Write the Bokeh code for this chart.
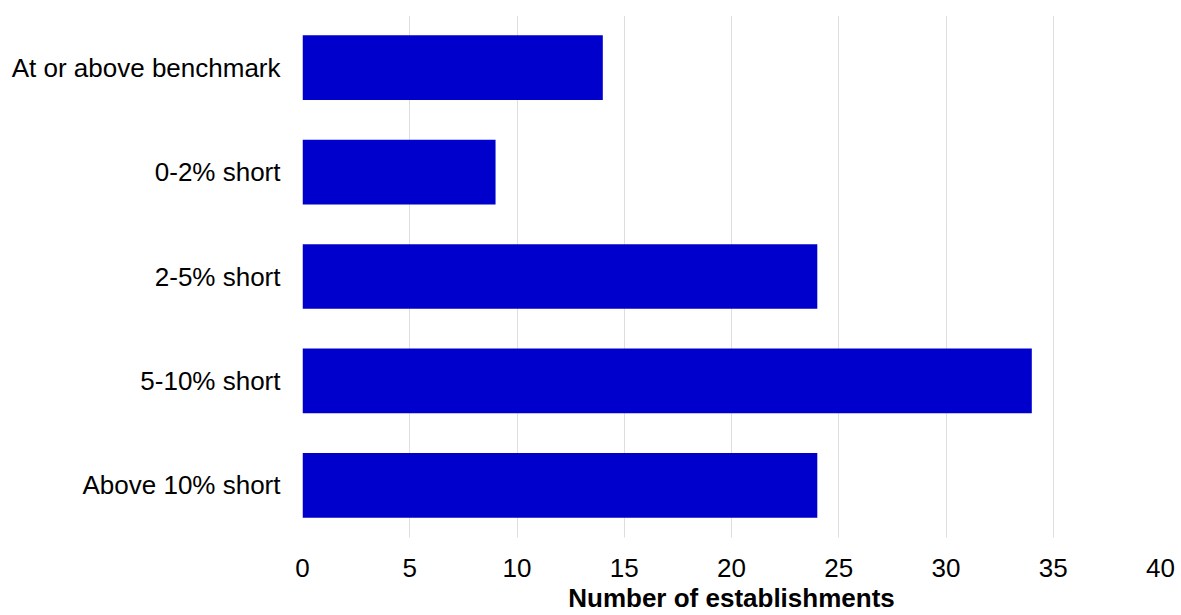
from bokeh.plotting import figure
from bokeh.models import FactorRange, Range1d, ColumnDataSource
from bokeh.embed import file_html
from bokeh.resources import INLINE

categories = ["At or above benchmark", "0-2% short", "2-5% short", "5-10% short", "Above 10% short"]
values = [14, 9, 24, 34, 24]
x_ticks = [0, 5, 10, 15, 20, 25, 30, 35, 40]

FONT = "Liberation Sans"

src = ColumnDataSource(dict(cat=categories, val=values))

p = figure(width=1181, height=615,
           y_range=FactorRange(factors=list(reversed(categories))),
           x_range=Range1d(0, 40),
           output_backend="svg", toolbar_location=None,
           min_border_left=302, min_border_right=21, min_border_top=15, min_border_bottom=77)

p.hbar(y="cat", right="val", left=0, height=0.62, source=src,
       fill_color="#0000cc", line_color=None)

p.outline_line_color = None
p.ygrid.grid_line_color = None
p.xgrid.grid_line_color = "#bdbdbd"
p.xgrid.grid_line_dash = "1 1"
p.xgrid.grid_line_width = 1

p.xaxis.ticker = x_ticks
p.xaxis.axis_line_color = None
p.xaxis.major_tick_line_color = None
p.xaxis.minor_tick_line_color = None
p.xaxis.major_tick_out = 0
p.xaxis.major_tick_in = 0
p.xaxis.major_label_standoff = 21
p.xaxis.major_label_text_font = FONT
p.xaxis.major_label_text_font_size = "26px"
p.xaxis.major_label_text_color = "black"
p.xaxis.axis_label = "Number of establishments"
p.xaxis.axis_label_text_font = FONT
p.xaxis.axis_label_text_font_size = "26px"
p.xaxis.axis_label_text_font_style = "bold"
p.xaxis.axis_label_text_color = "black"
p.xaxis.axis_label_standoff = 3

p.yaxis.axis_line_color = None
p.yaxis.major_tick_line_color = None
p.yaxis.major_tick_out = 0
p.yaxis.major_tick_in = 0
p.yaxis.major_label_standoff = 22
p.yaxis.major_label_text_font = FONT
p.yaxis.major_label_text_font_size = "26px"
p.yaxis.major_label_text_color = "black"

p.background_fill_color = "white"
p.border_fill_color = "white"

open("out.html", "w").write(file_html(p, INLINE))
